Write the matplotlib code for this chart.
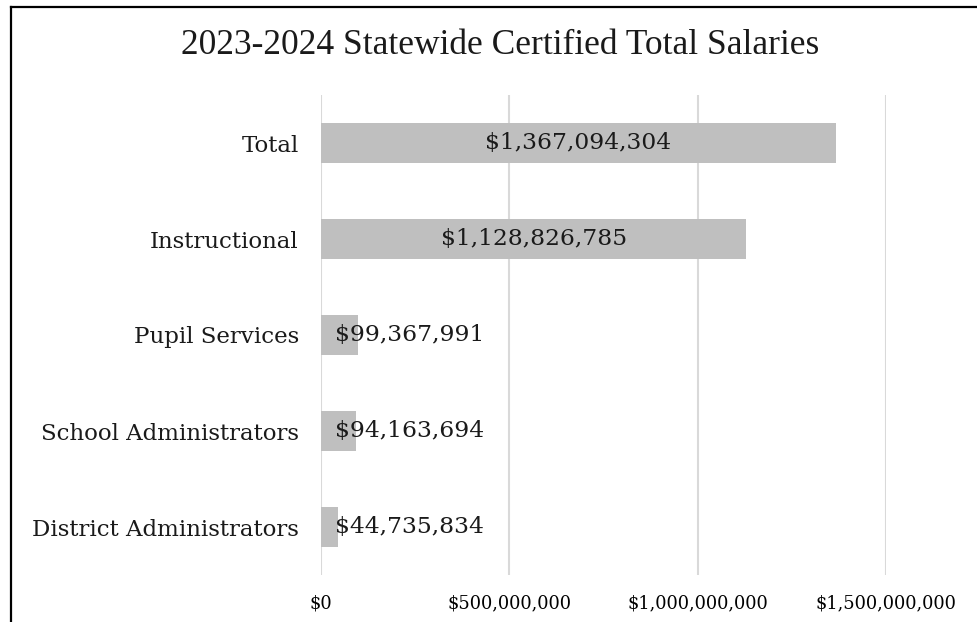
import numpy as np
import matplotlib.pyplot as plt
from matplotlib.lines import Line2D

categories = ["District Administrators", "School Administrators", "Pupil Services",
              "Instructional", "Total"]
salaries = [44735834, 94163694, 99367991, 1128826785, 1367094304]
xticks = [0, 500000000, 1000000000, 1500000000]

W, H = 978, 622
fig = plt.figure(figsize=(W / 100, H / 100), dpi=100)
ax = fig.add_axes([321 / W, 47 / H, (886 - 321) / W, (575 - 95) / H])

y = np.arange(len(categories))
ax.barh(y, salaries, height=0.41, color="#BFBFBF", zorder=2)
ax.set_ylim(-0.5, len(categories) - 0.5)
ax.set_xlim(0, 1500000000)

ax.set_xticks(xticks)
ax.set_xticklabels(["${:,}".format(v) for v in xticks], family="DejaVu Serif", fontsize=12.8)
ax.set_yticks(y)
ax.set_yticklabels(categories, family="DejaVu Serif", fontsize=16.5, color="#1a1a1a")
ax.tick_params(axis="x", length=0, pad=14)
ax.tick_params(axis="y", length=0, pad=16)
ax.grid(axis="x", color="#D9D9D9", linewidth=1.5, zorder=0)
for s in ax.spines.values():
    s.set_visible(False)

# value labels: centred in the long bars, pushed right of the axis for short ones
for yi, v in zip(y, salaries):
    txt = "${:,}".format(v)
    if v > 500000000:
        ax.text(v / 2, yi, txt, ha="center", va="center", family="DejaVu Serif",
                fontsize=16.8, color="#1a1a1a", zorder=3)
    else:
        ax.annotate(txt, (0, yi), xytext=(10, 0), textcoords="offset points",
                    ha="left", va="center", family="DejaVu Serif",
                    fontsize=16.8, color="#1a1a1a", zorder=3)

fig.text(500 / W, 1 - 45 / H, "2023-2024 Statewide Certified Total Salaries",
         ha="center", va="center", family="Liberation Serif", fontsize=25.5, color="#1a1a1a")

# frame edges
fig.add_artist(Line2D([11 / W, 11 / W], [0, 1 - 7 / H], color="black", lw=1.6))
fig.add_artist(Line2D([11 / W, 1], [1 - 7 / H, 1 - 7 / H], color="black", lw=1.6))

fig.savefig("out.png", dpi=100)
